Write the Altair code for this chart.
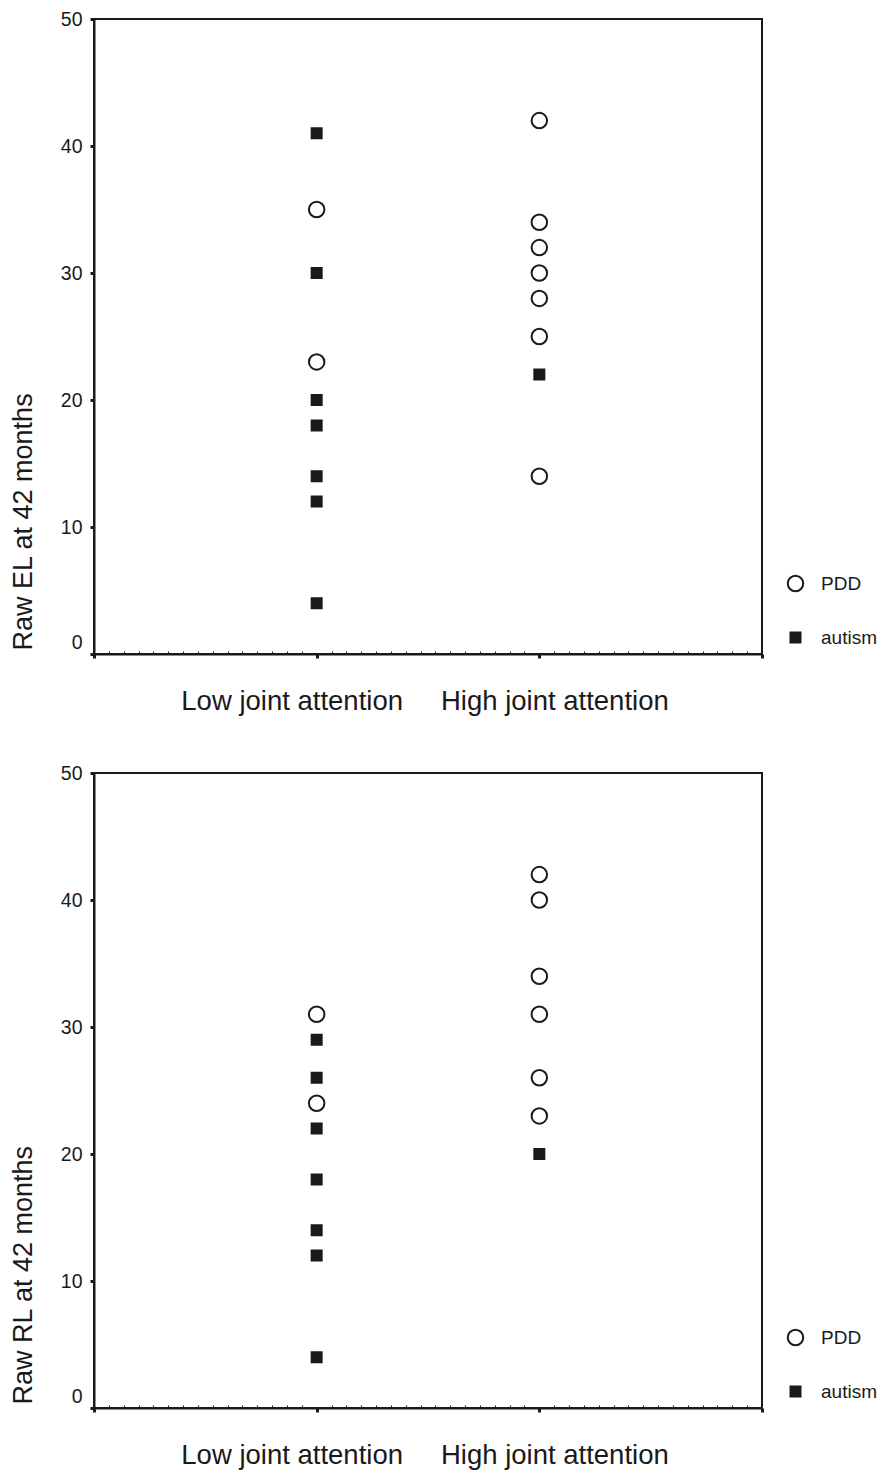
import altair as alt
import pandas as pd

# ---- data ----
diagnoses = ["PDD", "autism"]
attention_labels = ["Low joint attention", "High joint attention"]
attention_pos = [1, 2]

# Raw EL at 42 months
el_low_autism = [41, 30, 20, 18, 14, 12, 4]
el_low_pdd = [35, 23]
el_high_pdd = [42, 34, 32, 30, 28, 25, 14]
el_high_autism = [22]

# Raw RL at 42 months
rl_low_autism = [29, 26, 22, 18, 14, 12, 4]
rl_low_pdd = [31, 24]
rl_high_pdd = [42, 40, 34, 31, 26, 23]
rl_high_autism = [20]

y_ticks = [0, 10, 20, 30, 40, 50]
x_major = [0, 1, 2, 3]
x_minor = [i / 15 for i in range(46) if i % 15 != 0]

INK = "#1a1a1a"
FONT = "Liberation Sans"


def make_df(low_pdd, low_aut, high_pdd, high_aut):
    rows = []
    for vals, pos, dx in [(low_pdd, 1, "PDD"), (low_aut, 1, "autism"),
                          (high_pdd, 2, "PDD"), (high_aut, 2, "autism")]:
        for v in vals:
            rows.append({"attention": pos, "score": v, "diagnosis": dx})
    return pd.DataFrame(rows)


def panel(df, ytitle):
    xscale = alt.Scale(domain=[0, 3], nice=False, zero=False)
    label_expr = ("datum.value == 1 ? '%s' : datum.value == 2 ? '%s' : ''"
                  % (attention_labels[0], attention_labels[1]))
    legend = alt.Legend(
        title=None, orient="none", legendX=692, legendY=555,
        labelFontSize=19, labelFont=FONT, labelColor=INK,
        rowPadding=32, labelOffset=16, padding=0,
        symbolStrokeWidth=2,
    )
    points = alt.Chart(df).mark_point(
        filled=True, strokeWidth=2, opacity=1, fillOpacity=1
    ).encode(
        x=alt.X("attention:Q", scale=xscale, axis=alt.Axis(
            orient="bottom", values=x_major, labelExpr=label_expr, title=None,
            grid=False, tickSize=4, tickWidth=3, tickColor=INK,
            domainColor=INK, domainWidth=2, labelLimit=500,
            labelFontSize=27.5, labelFont=FONT, labelColor=INK, labelPadding=29,
            labelOffset={"condition": {"test": "datum.value == 1", "value": -25}, "value": 15},
        )),
        y=alt.Y("score:Q", scale=alt.Scale(domain=[0, 50], nice=False, zero=True), axis=alt.Axis(
            values=y_ticks, title=ytitle, grid=False,
            tickSize=4, tickWidth=3, tickColor=INK, domainColor=INK, domainWidth=2,
            labelFontSize=19.5, labelFont=FONT, labelColor=INK, labelPadding=8,
            labelOffset={"condition": {"test": "datum.value == 0", "value": -12}, "value": 0},
            titleFontSize=27, titleFont=FONT, titleFontWeight="normal", titleColor=INK,
            titleX=-57, titleY=631, titleAngle=270, titleAlign="left", titleBaseline="bottom",
        )),
        shape=alt.Shape("diagnosis:N", scale=alt.Scale(domain=diagnoses, range=["circle", "square"]), legend=legend),
        fill=alt.Fill("diagnosis:N", scale=alt.Scale(domain=diagnoses, range=["white", INK]), legend=legend),
        stroke=alt.Stroke("diagnosis:N", scale=alt.Scale(domain=diagnoses, range=[INK, INK]), legend=legend),
        size=alt.Size("diagnosis:N", scale=alt.Scale(domain=diagnoses, range=[240, 100]), legend=legend),
    )
    minor = alt.Chart(df).mark_point(opacity=0).encode(
        x=alt.X("attention:Q", scale=xscale, axis=alt.Axis(
            orient="bottom", values=x_minor, labels=False, domain=False, grid=False,
            tickSize=3, tickWidth=1, tickColor=INK, offset=-3, title=None,
        )),
    )
    return alt.layer(points, minor).resolve_axis(x="independent").properties(width=668, height=635)


top = panel(make_df(el_low_pdd, el_low_autism, el_high_pdd, el_high_autism), "Raw EL at 42 months")
bottom = panel(make_df(rl_low_pdd, rl_low_autism, rl_high_pdd, rl_high_autism), "Raw RL at 42 months")

chart = alt.vconcat(top, bottom, spacing=46).resolve_legend(
    shape="independent", fill="independent", size="independent", stroke="independent"
).properties(
    padding={"top": 0, "left": 0, "right": 0, "bottom": 0}
).configure(
    font=FONT, view=alt.ViewConfig(stroke=INK, strokeWidth=2)
)

chart.save("out.html", embed_options={"renderer": "svg", "actions": False})
